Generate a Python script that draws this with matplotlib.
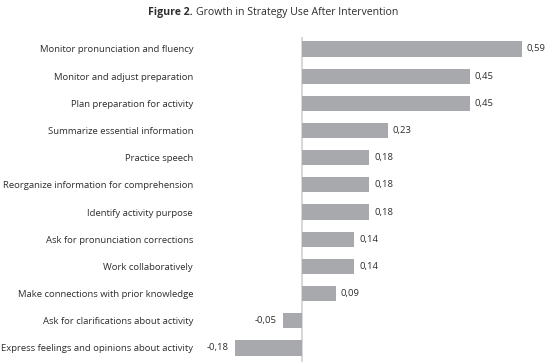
import matplotlib
matplotlib.use("Agg")
import matplotlib.pyplot as plt

categories = [
    "Monitor pronunciation and fluency",
    "Monitor and adjust preparation",
    "Plan preparation for activity",
    "Summarize essential information",
    "Practice speech",
    "Reorganize information for comprehension",
    "Identify activity purpose",
    "Ask for pronunciation corrections",
    "Work collaboratively",
    "Make connections with prior knowledge",
    "Ask for clarifications about activity",
    "Express feelings and opinions about activity",
]
values = [0.59, 0.45, 0.45, 0.23, 0.18, 0.18, 0.18, 0.14, 0.14, 0.09, -0.05, -0.18]

plt.rcParams['font.family'] = ['Open Sans', 'DejaVu Sans']
TXT = '#2e2e2e'
BAR = '#a7a9ac'

W, H = 550, 362
fig = plt.figure(figsize=(W / 100, H / 100), dpi=100)
ax_l, ax_r, ax_t, ax_b = 200, 550, 37, 362
ax = fig.add_axes([ax_l / W, 1 - ax_b / H, (ax_r - ax_l) / W, (ax_b - ax_t) / H])

scale = 373.0
zero = 302
ax.set_xlim((ax_l - zero) / scale, (ax_r - zero) / scale)
n = len(categories)
ypos = list(range(n))
ax.set_ylim(n - 1 + 0.515, -0.44)

ax.barh(ypos, values, height=0.56, color=BAR, zorder=2)
ax.axvline(0, color='#d4d4d4', lw=1.3, zorder=1)

for y, v in zip(ypos, values):
    lab = f"{v:.2f}".replace('.', ',')
    if v >= 0:
        ax.annotate(lab, (v, y), xytext=(3.5, 0), textcoords='offset points',
                    ha='left', va='center', fontsize=6.8, color=TXT)
    else:
        ax.annotate(lab, (v, y), xytext=(-4.5, 0), textcoords='offset points',
                    ha='right', va='center', fontsize=6.8, color=TXT)

ax.set_yticks(ypos)
ax.set_yticklabels(categories, fontsize=6.8, color=TXT)
ax.tick_params(axis='y', length=0, pad=5)
ax.set_xticks([])
for s in ax.spines.values():
    s.set_visible(False)

t1 = fig.text(148 / W, 1 - 12 / H, "Figure 2.", fontsize=7.6, color=TXT,
              fontweight='bold', ha='left', va='center')
fig.canvas.draw()
bb = t1.get_window_extent()
fig.text((bb.x1 + 3) / W, 1 - 12 / H, "Growth in Strategy Use After Intervention",
         fontsize=7.6, color=TXT, ha='left', va='center')

fig.savefig("out.png", dpi=100, facecolor='white')
